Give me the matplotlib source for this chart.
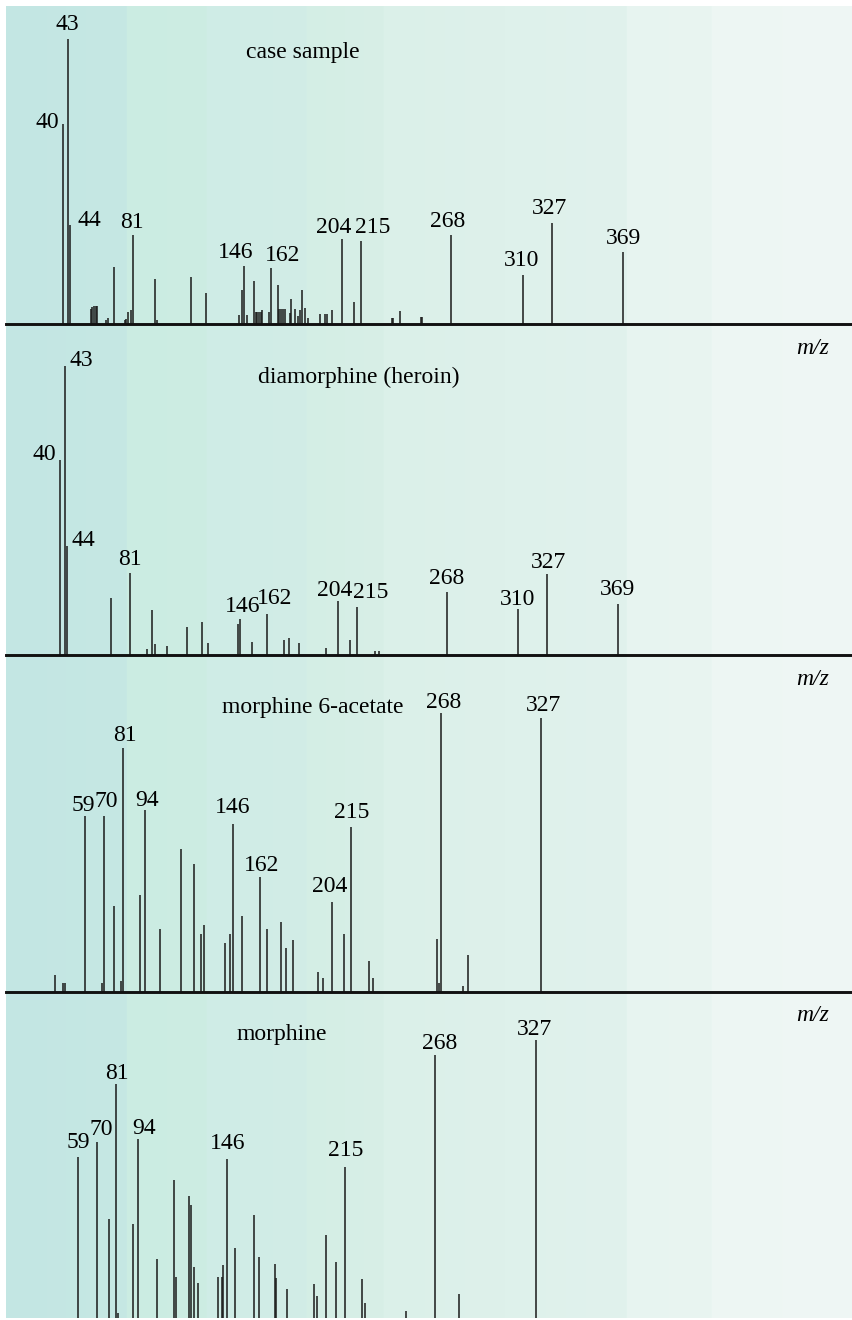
import matplotlib
matplotlib.use("Agg")
import matplotlib.pyplot as plt
import numpy as np

# ---------------------------------------------------------------- data
# m/z values and relative intensities (% of base peak) for each spectrum
case_mz = [40, 43, 44, 56, 57, 58, 59, 60, 65, 66, 70, 76, 77, 78, 80, 81,
           94, 95, 115, 124, 143, 145, 146, 148, 152, 153, 154, 155, 156,
           157, 161, 162, 166, 167, 168, 169, 170, 173, 174, 176, 178, 179,
           180, 182, 184, 191, 194, 195, 198, 204, 211, 215, 233, 234, 238,
           250, 251, 268, 310, 327, 369]
case_int = [70.2, 100, 34.7, 5.3, 6.0, 6.3, 6.3, 6.3, 1.5, 2.0, 20.1, 1.3,
            1.6, 4.3, 4.9, 31.2, 15.9, 1.4, 16.6, 10.8, 3.2, 12.0, 20.5, 3.2,
            15.2, 4.3, 4.3, 4.3, 4.3, 4.9, 4.3, 19.5, 13.6, 5.1, 5.1, 5.1,
            5.1, 4.0, 8.7, 5.1, 2.8, 4.9, 11.9, 5.5, 2.2, 3.5, 3.4, 3.4, 4.9,
            29.8, 7.8, 29.1, 2.2, 2.2, 4.7, 2.6, 2.6, 31.1, 17.2, 35.3, 25.4]
case_labels = [40, 43, 44, 81, 146, 162, 204, 215, 268, 310, 327, 369]

heroin_mz = [40, 43, 44, 70, 81, 91, 94, 96, 103, 115, 124, 127, 145, 146,
             153, 162, 172, 175, 181, 197, 204, 211, 215, 226, 228, 268, 310,
             327, 369]
heroin_int = [67.5, 100, 37.7, 19.6, 28.4, 2.0, 15.6, 3.8, 3.1, 9.8, 11.3,
              4.3, 10.6, 12.5, 4.6, 14.3, 5.2, 6.0, 4.3, 2.5, 18.8, 5.2, 16.7,
              1.4, 1.4, 21.9, 15.9, 28.0, 17.6]
heroin_labels = [40, 43, 44, 81, 146, 162, 204, 215, 268, 310, 327, 369]

mam_mz = [41, 46, 47, 59, 69, 70, 76, 80, 81, 91, 94, 103, 115, 123, 127,
          129, 141, 144, 146, 151, 162, 166, 174, 177, 181, 196, 199, 204,
          211, 215, 226, 228, 266, 267, 268, 281, 284, 327]
mam_int = [6.0, 3.0, 3.0, 63.2, 3.0, 63.2, 30.9, 3.8, 87.6, 34.7, 65.3, 22.7,
           51.4, 45.7, 20.9, 23.8, 17.4, 20.8, 60.1, 27.3, 41.1, 22.4, 24.9,
           15.6, 18.4, 7.2, 5.1, 32.2, 20.6, 59.2, 11.1, 5.1, 18.9, 3.0, 100,
           2.0, 13.2, 98.2]
mam_labels = [59, 70, 81, 94, 146, 162, 204, 215, 268, 327]

morphine_mz = [59, 70, 77, 81, 82, 91, 94, 105, 115, 116, 124, 125, 127,
               129, 141, 143, 144, 146, 151, 162, 165, 174, 175, 181, 197,
               199, 204, 210, 215, 225, 227, 251, 268, 282, 327]
morphine_int = [59.0, 64.4, 37.3, 84.5, 4.7, 35.7, 65.4, 23.3, 51.0, 17.0,
                45.6, 42.3, 20.7, 14.9, 17.0, 17.2, 21.3, 58.3, 27.2, 38.8,
                24.0, 21.7, 16.7, 12.9, 14.8, 10.5, 31.8, 22.3, 55.7, 16.5,
                8.2, 5.2, 94.8, 11.1, 100]
morphine_labels = [59, 70, 81, 94, 146, 215, 268, 327]

titles = ["case sample", "diamorphine (heroin)", "morphine 6-acetate",
          "morphine"]
axis_label = "m/z"

# ---------------------------------------------------------------- layout
W, H, DPI = 852, 1320, 100
SERIF = ["Liberation Serif", "DejaVu Serif"]
FS = 17
INK = "#1a1a1a"

fig = plt.figure(figsize=(W / DPI, H / DPI), dpi=DPI)
fig.patch.set_facecolor("white")


def rect(left, top, right, bottom):
    return [left / W, 1 - bottom / H, (right - left) / W, (bottom - top) / H]


# banded teal-to-pale background
bg = fig.add_axes(rect(6, 6, 852, 1318), zorder=0)
stops_x = [0, 120, 121, 200, 201, 300, 301, 377, 378, 620, 621, 705, 706, 846]
stops_c = ["#c3e6e3", "#c6e8e3", "#cbece2", "#cdece3", "#cfece6", "#d2ede6",
           "#d4eee5", "#d8efe7", "#dbf0e9", "#e1f2ed", "#e7f4f0", "#e9f5f1",
           "#edf6f3", "#eff7f5"]
rgb = np.array([matplotlib.colors.to_rgb(c) for c in stops_c])
xs = np.arange(846)
grad = np.stack([np.interp(xs, stops_x, rgb[:, k]) for k in range(3)], axis=-1)
bg.imshow(grad[None, :, :], aspect="auto", extent=[0, 1, 0, 1],
          interpolation="nearest")
bg.set_axis_off()

# panel boxes in pixels: axes top/bottom, baseline, base-peak height, x scale
panels = [
    dict(mz=case_mz, inten=case_int, labels=case_labels, top=6, bottom=324,
         base=324, full=285, x0=63.3, m0=40, slope=1.702,
         title_xy=(302.5, 57.7)),
    dict(mz=heroin_mz, inten=heroin_int, labels=heroin_labels, top=324,
         bottom=655, base=655, full=289, x0=60.1, m0=40, slope=1.695,
         title_xy=(359, 383.3)),
    dict(mz=mam_mz, inten=mam_int, labels=mam_labels, top=655, bottom=991.7,
         base=991.7, full=278.4, x0=85.3, m0=59, slope=1.70,
         title_xy=(312.5, 713.3)),
    dict(mz=morphine_mz, inten=morphine_int, labels=morphine_labels,
         top=991.7, bottom=1318, base=1326, full=286, x0=78.3, m0=59,
         slope=1.707, title_xy=(281.7, 1040)),
]

# label nudges in pixels: m/z -> (dx, dy, ha)
nudges = [
    {40: (-4, -4, "right"), 43: (-1, 9, "center"), 44: (7, -1, "left"),
     81: (-1, 7, "center"), 146: (-8, 8, "center"), 162: (12, 7, "center"),
     204: (-9, 6, "center"), 215: (12, 8, "center"), 268: (-4, 8, "center"),
     310: (-1, 9, "center"), 327: (-2, 9, "center"), 369: (0, 8, "center")},
    {40: (-4, 0, "right"), 43: (4, 0, "left"), 44: (5, 0, "left"),
     81: (0, 8, "center"), 146: (3, 7, "center"), 162: (8, 10, "center"),
     204: (-3, 5, "center"), 215: (14, 9, "center"), 268: (0, 8, "center"),
     310: (0, 4, "center"), 327: (2, 6, "center"), 369: (0, 9, "center")},
    {59: (-1.5, 5, "center"), 70: (2, 9, "center"), 81: (2, 7, "center"),
     94: (2, 4, "center"), 146: (-0.5, 11, "center"), 162: (1, 6, "center"),
     204: (-2, 10, "center"), 215: (1, 9, "center"), 268: (3, 5, "center"),
     327: (3, 7, "center")},
    {59: (0.5, 9, "center"), 70: (4, 7, "center"), 81: (1, 5, "center"),
     94: (6, 5, "center"), 146: (0.5, 10, "center"), 215: (1, 11, "center"),
     268: (5, 6, "center"), 327: (-1, 5, "center")},
]

PT = 72 / DPI  # points per pixel

for idx, (p, nudge) in enumerate(zip(panels, nudges)):
    ax = fig.add_axes(rect(6, p["top"], 852, p["bottom"]), zorder=2)
    ax.set_facecolor("none")
    unit = p["full"] / 100.0
    # baseline may sit below the visible box (last panel is cut off)
    ax.set_ylim((p["base"] - p["bottom"]) / unit,
                (p["base"] - p["top"]) / unit)
    left = p["m0"] - (p["x0"] - 6) / p["slope"]
    right = p["m0"] + (852 - p["x0"]) / p["slope"]
    ax.set_xlim(left, right)

    ax.vlines(p["mz"], 0, p["inten"], colors=INK, linewidth=1.1)

    for sp in ("top", "left", "right"):
        ax.spines[sp].set_visible(False)
    if p["base"] == p["bottom"]:
        ax.spines["bottom"].set_linewidth(2.1)
        ax.spines["bottom"].set_color("#111111")
    else:
        ax.spines["bottom"].set_visible(False)
    ax.set_xticks([])
    ax.set_yticks([])

    lookup = dict(zip(p["mz"], p["inten"]))
    for m in p["labels"]:
        dx, dy, ha = nudge.get(m, (0, 7, "center"))
        ax.annotate(str(m), xy=(m, lookup[m]), xytext=(dx * PT, dy * PT),
                    textcoords="offset points", ha=ha, va="baseline",
                    fontsize=FS, family=SERIF, color="black",
                    annotation_clip=False)

    tx, ty = p["title_xy"]
    fig.text(tx / W, 1 - ty / H, titles[idx], ha="center", va="baseline",
             fontsize=FS, family=SERIF, color="black", zorder=3)

# m/z axis captions under the upper three baselines
for y in (354, 685, 1021):
    fig.text(812.5 / W, 1 - y / H, axis_label, ha="center", va="baseline",
             fontsize=FS, family=SERIF, style="italic", color="black",
             zorder=3)

fig.savefig("out.png", dpi=DPI, facecolor=fig.get_facecolor())
